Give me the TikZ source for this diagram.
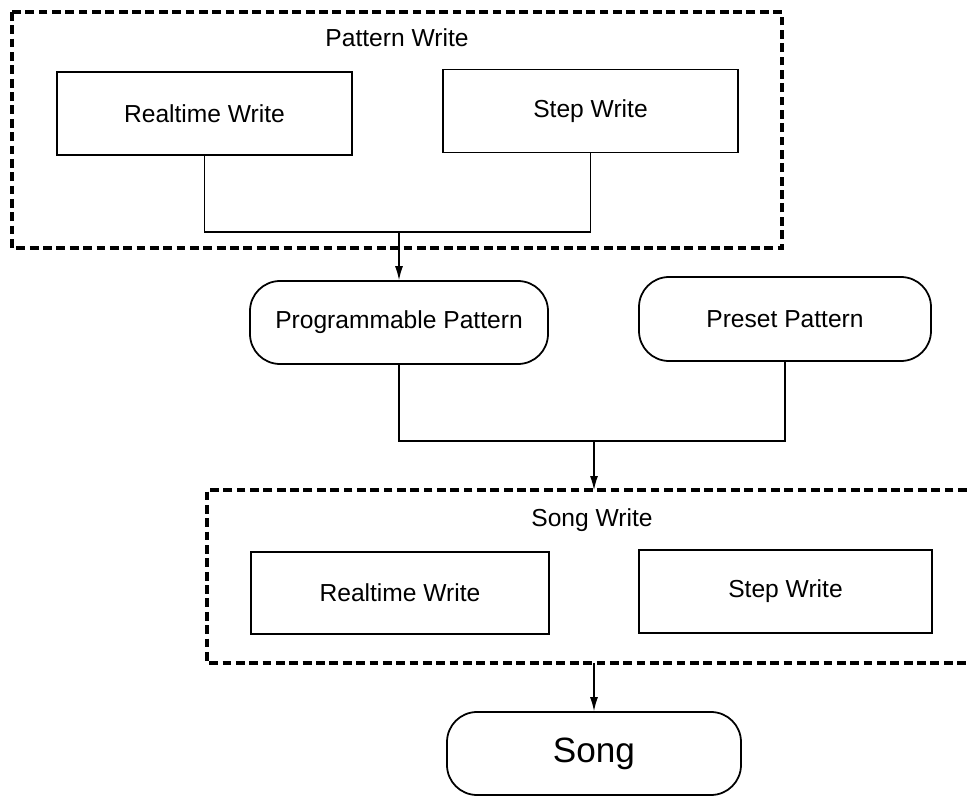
\documentclass[tikz,border=0pt]{standalone}
\usepackage{fontspec}
\setmainfont{Liberation Sans}
\usetikzlibrary{arrows.meta}
\begin{document}
\begin{tikzpicture}[wbox/.style={draw,line width=1pt,minimum height=1.66cm,font=\fontsize{14}{17}\selectfont},
  pbox/.style={wbox,rounded corners=0.6cm},
  frame/.style={line width=2.4pt,dash pattern=on 5pt off 2.6pt},
  link/.style={line width=0.7pt},
  arr/.style={link,-{Latex[length=2.8mm,width=1.6mm]}}]
 \useasboundingbox (0,0) rectangle (19.36,15.92);
 \draw[frame] (0.24,15.68) rectangle (15.64,10.96);
 \node (pwlabel) at (7.94,15.16) [font=\fontsize{14}{17}\selectfont] {Pattern Write};
 \node (rt1) at (4.09,13.65) [wbox,minimum width=5.9cm] {Realtime Write};
 \node (st1) at (11.81,13.70) [wbox,minimum width=5.9cm] {Step Write};
 \coordinate (j1) at (7.98,11.28);
 \node (prog) at (7.98,9.47) [pbox,minimum width=5.96cm] {Programmable Pattern};
 \node (pre) at (15.70,9.54) [pbox,minimum width=5.84cm,minimum height=1.68cm] {Preset Pattern};
 \draw[link] (rt1.south) |- (j1) -| (st1.south); \draw[arr] (j1) -- (prog);
 \coordinate (j2) at (11.88,7.10); \coordinate (j3) at (11.88,6.12); \coordinate (j4) at (11.88,2.66);
 \draw[link] (prog.south) |- (j2) -| (pre.south); \draw[arr] (j2) -- (j3);
 \draw[frame] (19.6,6.12) -- (4.14,6.12) -- (4.14,2.66) -- (19.6,2.66);
 \node (swlabel) at (11.84,5.52) [font=\fontsize{14}{17}\selectfont] {Song Write};
 \node (rt2) at (8.00,4.06) [wbox,minimum width=5.96cm,minimum height=1.64cm] {Realtime Write};
 \node (st2) at (15.71,4.09) [wbox,minimum width=5.86cm] {Step Write};
 \node (song) at (11.88,0.85) [pbox,minimum width=5.88cm,font=\fontsize{20}{24}\selectfont] {Song};
 \draw[arr] (j4) -- (song);
\end{tikzpicture}
\end{document}
